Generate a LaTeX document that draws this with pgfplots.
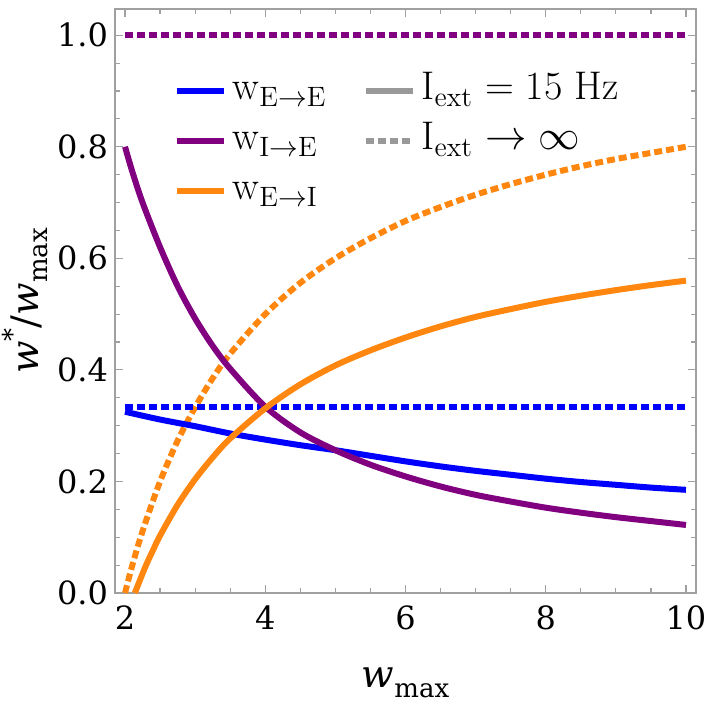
\documentclass[border=0pt]{standalone}
\usepackage{pgfplots}
\pgfplotsset{compat=1.18}
\usepackage{fontspec}
\newfontfamily\dejavu{DejaVu Serif}
\definecolor{cblue}{RGB}{0,0,255}
\definecolor{cpurple}{RGB}{128,0,128}
\definecolor{corange}{RGB}{255,135,15}
\definecolor{cframe}{RGB}{160,160,160}
\begin{document}
\begin{tikzpicture}
\begin{axis}[
  scale only axis,
  width=290.5pt, height=292pt,
  xmin=1.857, xmax=10.143, ymin=0, ymax=1.047,
  xtick={2,4,6,8,10},
  ytick={0,0.2,0.4,0.6,0.8,1.0},
  minor x tick num=3, minor y tick num=3,
  tick align=inside,
  major tick length=4pt, minor tick length=2.5pt,
  axis line style={cframe, line width=0.6pt},
  every tick/.style={cframe, line width=0.6pt},
  /pgf/number format/assume math mode=true,
  tick label style={font=\dejavu\fontsize{16}{16}\selectfont},
  yticklabel style={/pgf/number format/.cd, fixed, fixed zerofill, precision=1},
  xticklabel style={yshift=-3pt},
  xlabel={\dejavu\fontsize{19}{19}\selectfont\textit{w}\raisebox{-0.25em}{\fontsize{13}{13}\selectfont max}},
  ylabel={\dejavu\fontsize{19}{19}\selectfont\textit{w}\raisebox{0.45em}{\fontsize{13}{13}\selectfont *}/\textit{w}\raisebox{-0.25em}{\fontsize{13}{13}\selectfont max}},
  xlabel style={at={(axis description cs:0.5,-0.154)}, anchor=center},
  ylabel style={at={(axis description cs:-0.155,0.5)}, anchor=center},
  legend columns=2,
  legend cell align=left,
  legend image code/.code={\draw[#1, line cap=butt] (0pt,0pt) -- (23.5pt,0pt);},
  legend style={at={(axis description cs:0.09,0.91)}, anchor=north west,
    draw=none, fill=none, font=\fontsize{20}{24}\selectfont,
    nodes={inner sep=3pt, text height=14pt, text depth=5pt},
    /tikz/every even column/.append style={column sep=15pt}},
]
\addlegendimage{cblue, line width=3pt}
\addlegendentry{$\mathrm{w}_{\mathrm{E}\rightarrow\mathrm{E}}$}
\addlegendimage{gray!80, line width=3pt}
\addlegendentry{I$_{\mathrm{ext}}$ = 15 Hz}
\addlegendimage{cpurple, line width=3pt}
\addlegendentry{$\mathrm{w}_{\mathrm{I}\rightarrow\mathrm{E}}$}
\addlegendimage{gray!80, line width=3pt, dash pattern=on 4pt off 2pt}
\addlegendentry{I$_{\mathrm{ext}}$ $\rightarrow$ $\infty$}
\addlegendimage{corange, line width=3pt}
\addlegendentry{$\mathrm{w}_{\mathrm{E}\rightarrow\mathrm{I}}$}

% I_ext -> infinity (dotted)
\addplot[forget plot, cpurple, line width=3pt, dash pattern=on 4pt off 2pt] coordinates {(2,1.0) (10,1.0)};
\addplot[forget plot, corange, line width=3pt, dash pattern=on 4pt off 2pt, smooth] coordinates {
(2,0.000) (2.1,0.048) (2.25,0.111) (2.5,0.200) (2.75,0.273) (3,0.333) (3.25,0.385) (3.5,0.429)
(4,0.500) (4.5,0.556) (5,0.600) (5.5,0.636) (6,0.667) (6.5,0.692) (7,0.714) (7.5,0.733)
(8,0.750) (8.5,0.765) (9,0.778) (9.5,0.789) (10,0.800)};
\addplot[forget plot, cblue, line width=3pt, dash pattern=on 4pt off 2pt] coordinates {(2,0.3333) (10,0.3333)};

% I_ext = 15 Hz (solid)
\addplot[forget plot, cblue, line width=3pt, smooth] coordinates {
(2,0.325) (2.5,0.311) (3,0.299) (3.5,0.286) (4,0.275) (4.5,0.265) (5,0.256) (5.5,0.246)
(6,0.236) (6.5,0.227) (7,0.219) (7.5,0.212) (8,0.205) (8.5,0.199) (9,0.194) (9.5,0.189) (10,0.185)};
\addplot[forget plot, cpurple, line width=3pt, smooth] coordinates {
(2,0.800) (2.1,0.757) (2.25,0.700) (2.5,0.620) (2.75,0.550) (3,0.492) (3.25,0.443) (3.5,0.402)
(4,0.334) (4.5,0.288) (5,0.256) (5.5,0.230) (6,0.209) (6.5,0.191) (7,0.176) (7.5,0.164)
(8,0.153) (8.5,0.144) (9,0.136) (9.5,0.129) (10,0.122)};
\addplot[forget plot, corange, line width=3pt, smooth] coordinates {
(2.14,0.000) (2.2,0.019) (2.3,0.050) (2.4,0.077) (2.5,0.103) (2.75,0.158) (3,0.204) (3.25,0.243)
(3.5,0.277) (4,0.331) (4.5,0.374) (5,0.408) (5.5,0.435) (6,0.458) (6.5,0.478) (7,0.495)
(7.5,0.509) (8,0.522) (8.5,0.533) (9,0.543) (9.5,0.552) (10,0.560)};
\end{axis}
\pgfresetboundingbox
\path ([shift={(-57.5pt,-57pt)}]current axis.south west) rectangle ([shift={(6.5pt,4.5pt)}]current axis.north east);
\end{tikzpicture}
\end{document}
